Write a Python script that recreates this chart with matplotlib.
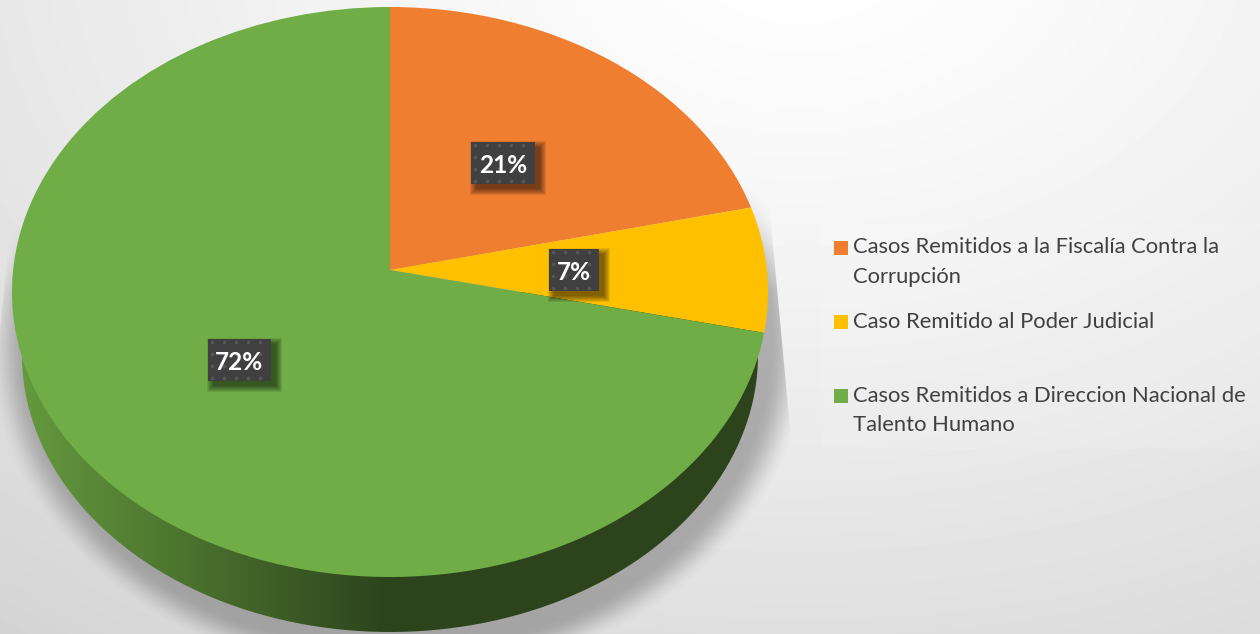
import matplotlib
matplotlib.use("Agg")
import matplotlib.pyplot as plt
import matplotlib.transforms as mtransforms
import numpy as np
from matplotlib.patches import PathPatch, Rectangle
from matplotlib.path import Path

categories = [
    "Casos Remitidos a la Fiscalía Contra la\nCorrupción",
    "Caso Remitido al Poder Judicial",
    "Casos Remitidos a Direccion Nacional de\nTalento Humano",
]
values = [21.4, 7.1, 71.5]
value_labels = ["21%", "7%", "72%"]
colors = ["#F07E31", "#FFC000", "#70AD47"]

plt.rcParams["font.family"] = ["Lato", "DejaVu Sans"]


class Tilt(mtransforms.Transform):
    # unit circle -> tilted disc, the apex ends up above the ellipse centre
    input_dims = 2
    output_dims = 2

    def __init__(self, cx, cy, rx, ry, k):
        super().__init__()
        self.cx, self.cy, self.rx, self.ry, self.k = cx, cy, rx, ry, k

    def transform_non_affine(self, values):
        values = np.asarray(values)
        w = 1 + self.k * values[:, 1]
        return np.column_stack([self.cx + self.rx * values[:, 0] / w,
                                self.cy - self.ry * values[:, 1] / w])


fig = plt.figure(figsize=(12.6, 6.34), dpi=100)
ax = fig.add_axes([0, 0, 1, 1])

# page background
yy, xx = np.mgrid[0:634, 0:1260]
dist = np.hypot((xx - 800) / 1100, (yy + 60) / 760)
bg = np.clip(1.0 - 0.14 * dist ** 1.3, 0, 1)
ax.imshow(bg, cmap="gray", vmin=0, vmax=1, extent=(0, 1260, 634, 0), aspect="auto", zorder=0)

# legend panel, barely lighter than the page
ax.add_patch(Rectangle((821, 224), 439, 225, fc="white", alpha=0.1, lw=0, zorder=1))

# soft shadow under the pie, fades out towards the top of the disc
d = np.hypot((xx - 398) / 412, (yy - 345) / 336)
ramp = np.clip((1.0 - d) / 0.10, 0, 1)
ramp = ramp * ramp * (3 - 2 * ramp)
fade_top = np.clip((yy - 180) / 110, 0, 1)
sh = np.zeros(xx.shape + (4,))
sh[..., :3] = 0.38
sh[..., 3] = 0.46 * ramp * fade_top
im = ax.imshow(sh, extent=(0, 1260, 634, 0), aspect="auto", zorder=2)
im.set_clip_path(PathPatch(Path([(15, 180), (767, 180), (792, 450), (792, 634), (0, 634), (0, 330), (15, 180)]),
                           transform=ax.transData))

# side wall: hull of the rim and a smaller disc lower down
t = np.linspace(np.pi, 2 * np.pi, 200)
low_x = 390 + 368 * np.cos(t)
low_y = 355 - 277 * np.sin(t)
wall = np.column_stack([np.r_[12, low_x, 768], np.r_[292, low_y, 292]])
dark = np.array([0x2C, 0x43, 0x1C]) / 255
light = np.array([0x66, 0x9C, 0x3E]) / 255
f = np.clip((np.arange(1260) - 10) / 380, 0, 1)[None, :, None]
grad = light * (1 - f) + dark * f
wall_im = ax.imshow(grad, extent=(0, 1260, 634, 0), aspect="auto", zorder=3)
wall_im.set_clip_path(PathPatch(Path(wall), transform=ax.transData))

# top of the pie
wedges, _ = ax.pie(values, colors=colors, startangle=90, counterclock=False,
                   wedgeprops={"linewidth": 0})
tilt = Tilt(390, 270, 376.9, 283.3, 0.0772)
for w in wedges:
    w.set_transform(tilt + ax.transData)
    w.set_zorder(4)

ax.set_aspect("auto")
ax.set_xlim(0, 1260)
ax.set_ylim(634, 0)
ax.axis("off")

# data labels: dark dotted boxes with a drop shadow
boxes = [(471, 142, 64, 42), (549, 249, 50, 42), (208, 339, 63, 42)]
for (bx, by, bw, bh), lab in zip(boxes, value_labels):
    for grow in [12, 10, 8, 6, 4, 2, 0]:
        ax.add_patch(Rectangle((bx + 5 - grow / 2, by + 5 - grow / 2), bw + grow, bh + grow,
                               fc="black", alpha=0.09, lw=0, zorder=5))
    ax.add_patch(Rectangle((bx, by), bw, bh, fc="#404040", lw=0, zorder=6))
    dx, dy = np.meshgrid(np.arange(bx + 4, bx + bw, 12), np.arange(by + 3, by + bh, 12))
    ax.scatter(dx.ravel(), dy.ravel(), s=7, c="#565656", linewidths=0, zorder=7)
    ax.text(bx + bw / 2, by + 31, lab, color="white", fontsize=17.6, fontweight="bold",
            ha="center", va="baseline", zorder=8)

# legend
marker_y = [241, 315, 389]
baselines = [[253, 283], [328], [402, 431]]
for cat, col, my, bases in zip(categories, colors, marker_y, baselines):
    ax.add_patch(Rectangle((834, my), 14, 14, fc=col, lw=0, zorder=5))
    for line, base in zip(cat.split("\n"), bases):
        ax.text(853, base, line, color="#404040", fontsize=15.85, ha="left", va="baseline", zorder=5)

fig.savefig("out.png", dpi=100)
